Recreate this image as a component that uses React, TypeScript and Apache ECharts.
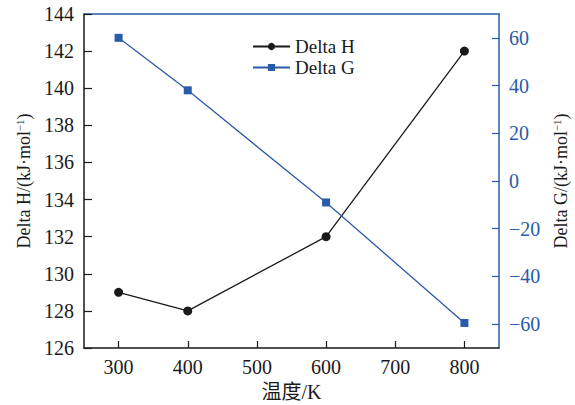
import React, { useEffect, useRef } from "react";
import * as echarts from "echarts";

const temps = [300, 400, 600, 800];
const deltaH = [129, 128, 132, 142];
const deltaG = [60, 38, -9, -59.5];
const xTicks = [300, 400, 500, 600, 700, 800];
const gTicks = [-60, -40, -20, 0, 20, 40, 60];

const BLUE = "#2a5ba8";
const BLACK = "#1a1a1a";
const FONT = "'Liberation Serif', 'Times New Roman', 'Noto Sans CJK SC', serif";

export default function App() {
  const ref = useRef<HTMLDivElement>(null);
  useEffect(() => {
    if (!ref.current) return;
    const chart = echarts.init(ref.current, undefined, { renderer: "svg" });
    chart.setOption({
      animation: false,
      textStyle: { fontFamily: FONT },
      grid: { left: 84, right: 76, top: 14, bottom: 57, containLabel: false, outerBoundsMode: "none" },
      legend: {
        left: 247,
        top: 32,
        orient: "vertical",
        itemGap: 2,
        itemWidth: 37,
        itemHeight: 9,
        textStyle: { fontFamily: FONT, fontSize: 19, color: BLACK },
        data: ["Delta H", "Delta G"],
      },
      xAxis: [
        {
          type: "value",
          min: 250,
          max: 850,
          position: "bottom",
          name: "温度/K",
          nameLocation: "middle",
          nameGap: 32,
          nameTextStyle: { fontFamily: FONT, fontSize: 20, color: BLACK },
          axisLine: { onZero: false, lineStyle: { color: BLACK, width: 1.5 } },
          axisTick: { inside: true, length: 7, customValues: xTicks, lineStyle: { color: BLACK, width: 1.2 } },
          axisLabel: { customValues: xTicks, margin: 9, fontFamily: FONT, fontSize: 20, color: BLACK },
          splitLine: { show: false },
        },
        {
          type: "value",
          min: 250,
          max: 850,
          position: "top",
          axisLine: { show: true, onZero: false, lineStyle: { color: BLUE, width: 1.5 } },
          axisTick: { show: false },
          axisLabel: { show: false },
          splitLine: { show: false },
        },
      ],
      yAxis: [
        {
          type: "value",
          min: 126,
          max: 144,
          interval: 2,
          position: "left",
          name: "{t|Delta H/(kJ·mol}{s|−1}{t|)}",
          nameLocation: "middle",
          nameGap: 51,
          nameTextStyle: {
            fontFamily: FONT,
            fontSize: 18,
            color: BLACK,
            rich: {
              t: { fontFamily: FONT, fontSize: 18, color: BLACK },
              s: { fontFamily: FONT, fontSize: 11, color: BLACK, verticalAlign: "top", padding: [0, 0, 8, 0] },
            },
          },
          axisLine: { show: true, onZero: false, lineStyle: { color: BLACK, width: 1.5 } },
          axisTick: { show: true, inside: true, length: 8, lineStyle: { color: BLACK, width: 1.2 } },
          axisLabel: { margin: 10, fontFamily: FONT, fontSize: 20, color: BLACK },
          splitLine: { show: false },
        },
        {
          type: "value",
          min: -70,
          max: 70,
          position: "right",
          name: "{t|Delta G/(kJ·mol}{s|−1}{t|)}",
          nameLocation: "middle",
          nameGap: 51,
          nameTextStyle: {
            fontFamily: FONT,
            fontSize: 18,
            color: BLACK,
            rich: {
              t: { fontFamily: FONT, fontSize: 18, color: BLACK },
              s: { fontFamily: FONT, fontSize: 11, color: BLACK, verticalAlign: "top", padding: [0, 0, 8, 0] },
            },
          },
          axisLine: { show: true, onZero: false, lineStyle: { color: BLUE, width: 1.5 } },
          axisTick: { show: true, inside: true, length: 7, customValues: gTicks, lineStyle: { color: BLUE, width: 1.2 } },
          axisLabel: {
            customValues: gTicks,
            margin: 10,
            fontFamily: FONT,
            fontSize: 20,
            color: BLUE,
            formatter: (v: number) => (v < 0 ? "−" + Math.abs(v) : String(v)),
          },
          splitLine: { show: false },
        },
      ],
      series: [
        {
          name: "Delta H",
          type: "line",
          xAxisIndex: 0,
          yAxisIndex: 0,
          data: temps.map((t, i) => [t, deltaH[i]]),
          symbol: "circle",
          symbolSize: 9,
          lineStyle: { color: BLACK, width: 1.3 },
          itemStyle: { color: BLACK },
        },
        {
          name: "Delta G",
          type: "line",
          xAxisIndex: 0,
          yAxisIndex: 1,
          data: temps.map((t, i) => [t, deltaG[i]]),
          symbol: "rect",
          symbolSize: 8,
          lineStyle: { color: BLUE, width: 1.3 },
          itemStyle: { color: BLUE },
        },
      ],
    });
    return () => chart.dispose();
  }, []);
  return <div ref={ref} style={{ position: "absolute", left: 0, top: 0, width: 575, height: 405 }} />;
}
